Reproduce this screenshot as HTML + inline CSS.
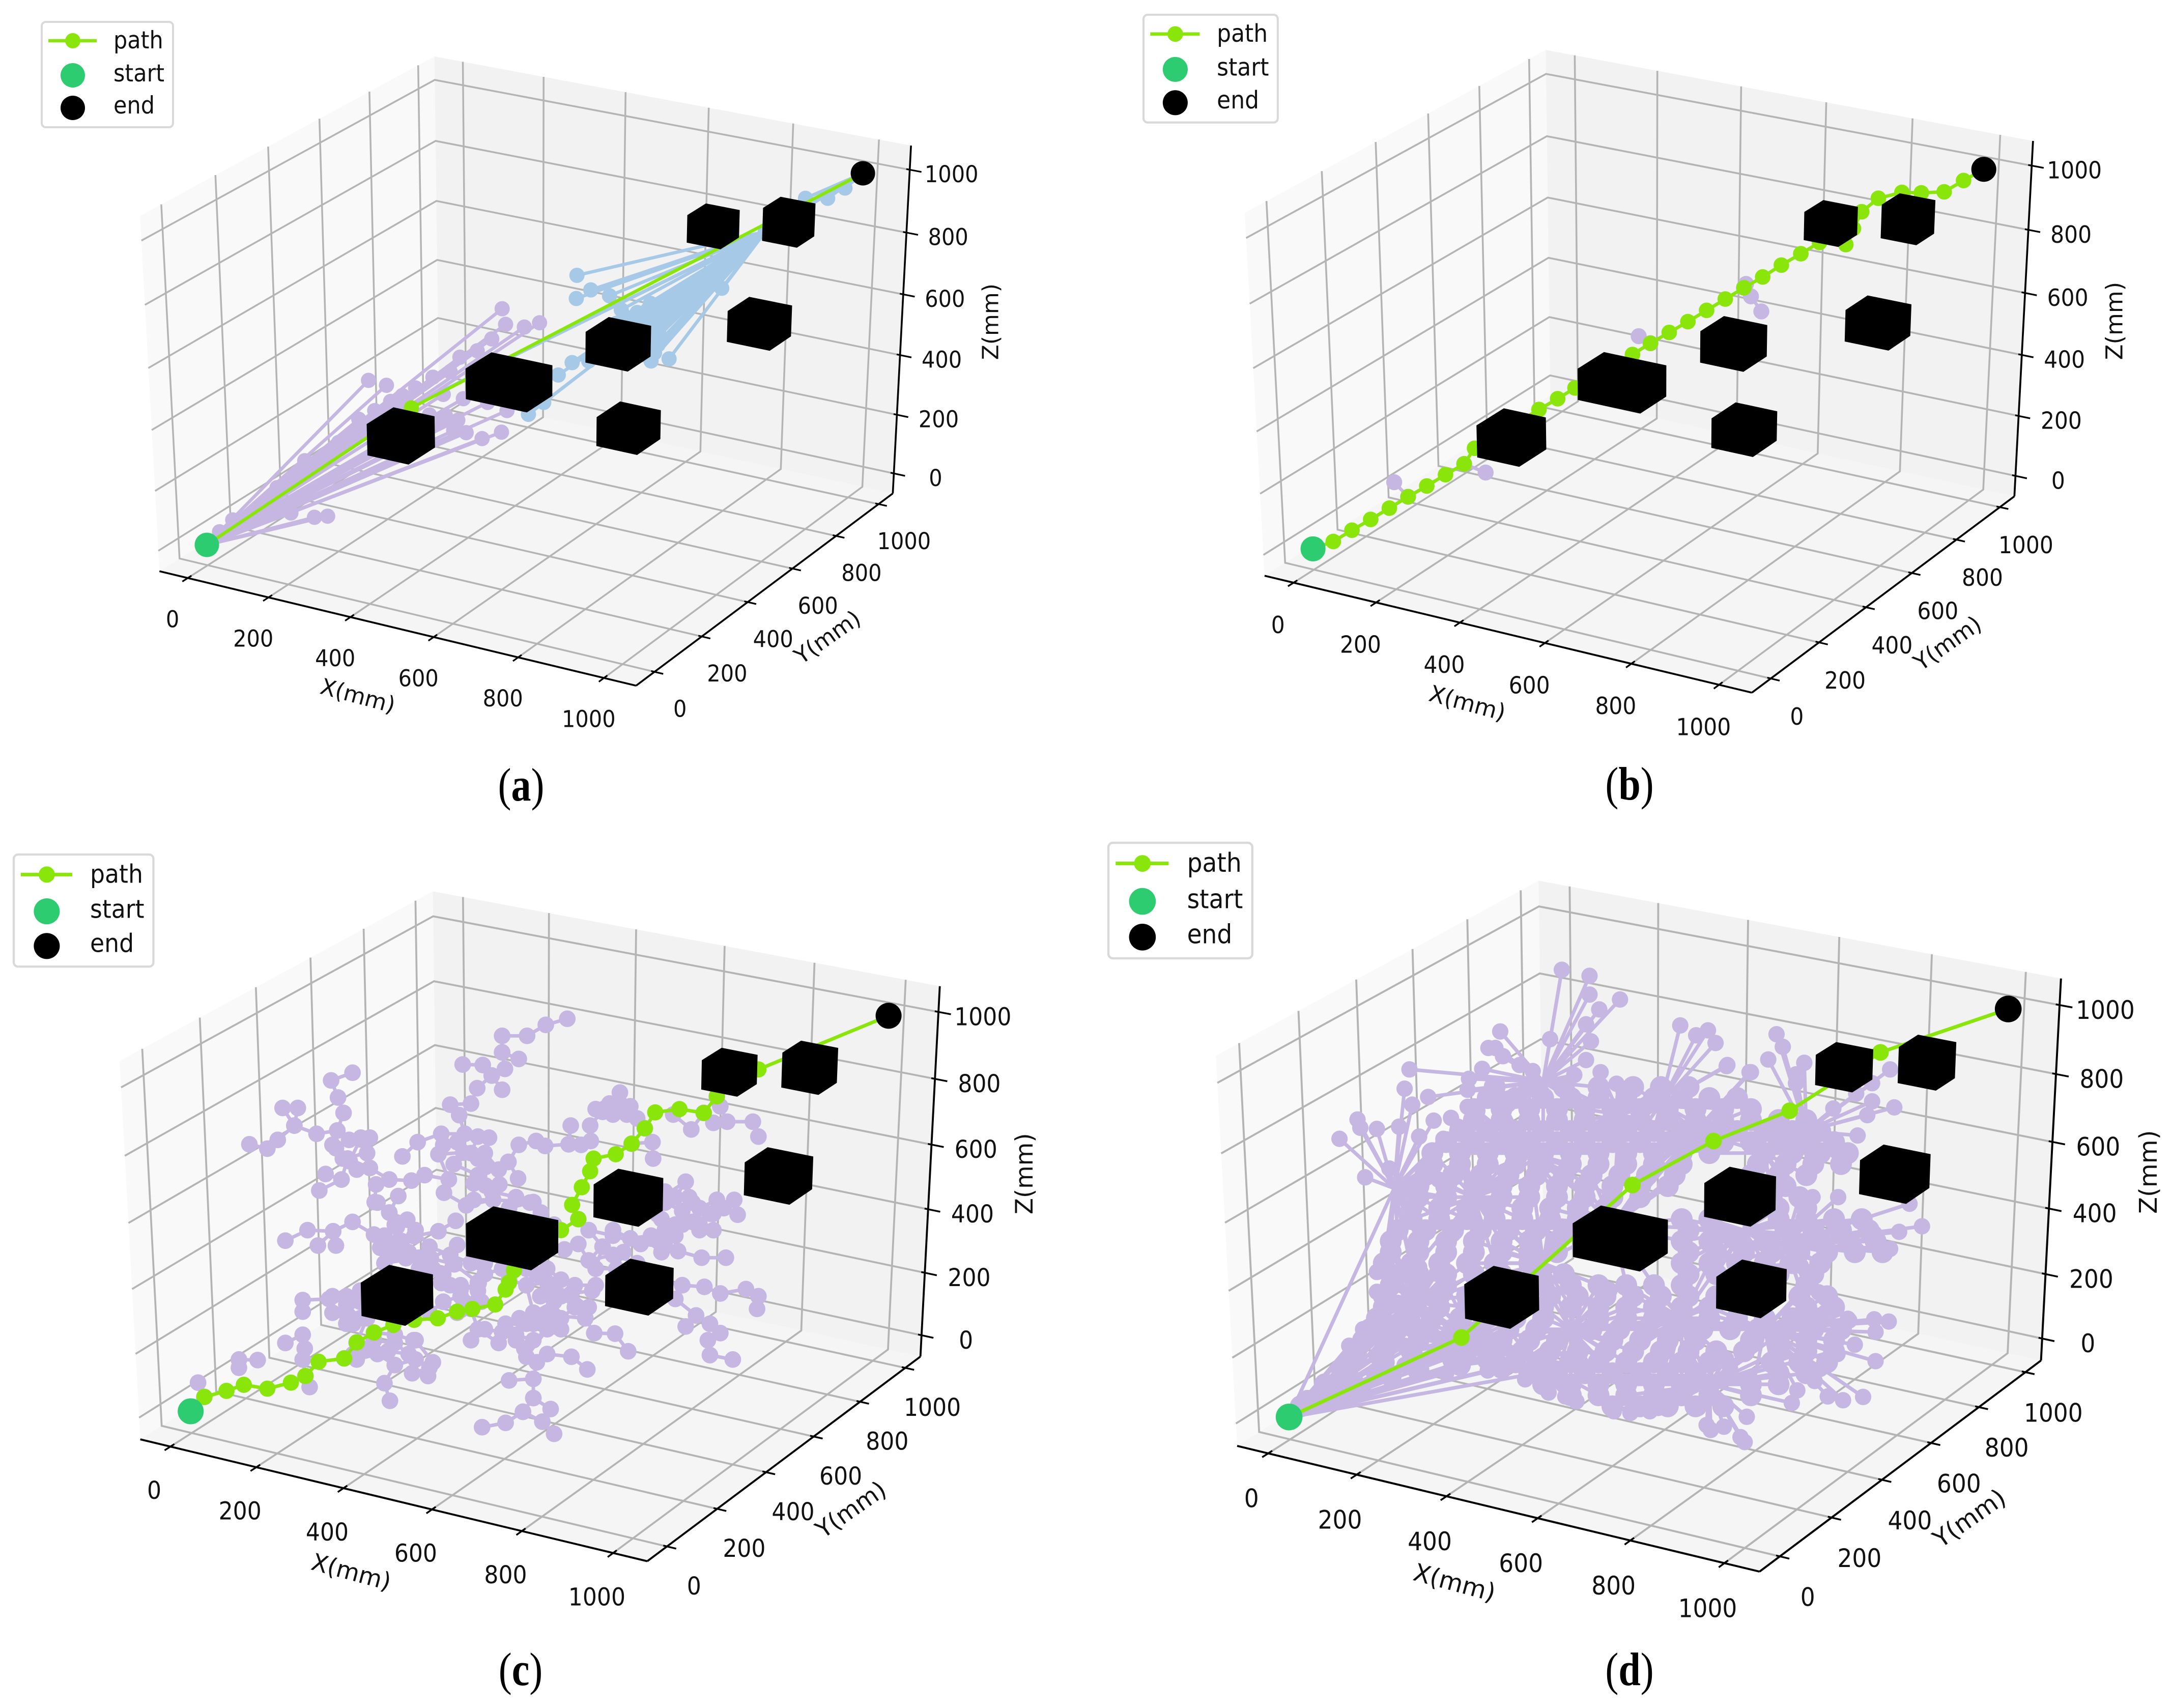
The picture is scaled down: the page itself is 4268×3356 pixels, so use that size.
<!DOCTYPE html>
<html lang="en">
<head>
<meta charset="utf-8">
<title>RRT path planning in 3D obstacle space</title>
<style>
html,body{margin:0;padding:0;background:#fff}
svg{display:block}
text{fill:#111;font-family:"DejaVu Sans","Liberation Sans",sans-serif}
.cap{font-family:"Liberation Serif",serif}
</style>
</head>
<body>
<svg id="figure" xmlns="http://www.w3.org/2000/svg" width="4268" height="3356" viewBox="0 0 4268 3356">
<rect x="0" y="0" width="4268" height="3356" fill="#ffffff"/>
</svg>
<script>
/* ---- axis data (mm) ---- */
const xLimits = [-71, 1074];
const yLimits = [-77, 1068];
const zLimits = [-69, 1076];
const xTicks = [0, 200, 400, 600, 800, 1000];
const yTicks = [0, 200, 400, 600, 800, 1000];
const zTicks = [0, 200, 400, 600, 800, 1000];
const xAxisTitle = "X(mm)";
const yAxisTitle = "Y(mm)";
const zAxisTitle = "Z(mm)";
const legendLabels = ["path", "start", "end"];

/* ---- scene data (mm) ---- */
const startPoint = [0, 0, 0];
const endPoint = [1000, 1000, 1000];
const cubeCenterX = [319, 476, 646, 886, 734, 867, 724];
const cubeCenterY = [267, 445, 605, 777, 848, 932, 513];
const cubeCenterZ = [319, 450, 543, 593, 831, 841, 338];
const cubeSizeX = [100, 147, 101, 101, 80, 82, 97];
const cubeSizeY = [107, 106, 98, 95, 81, 78, 100];
const cubeSizeZ = [103, 100, 100, 100, 88, 105, 95];

/* ---- tree and path nodes, in view-plane units of each plot (0..1568) ---- */
const pathA = [[594,757]];
const pathB = [[357,1005],[384,984],[411,964],[438,943],[465,922],[492,902],[519,881],[546,861],[561,832],[588,812],[615,791],[654,760],[681,740],[706,720],[734,700],[762,680],[789,658],[815,637],[842,617],[869,597],[896,576],[923,555],[950,534],[977,514],[1004,492],[1032,471],[1059,450],[1097,454],[1108,424],[1120,393],[1144,368],[1178,357],[1206,358],[1239,356],[1267,335]];
const pathC = [[295,1003],[327,992],[352,981],[386,988],[420,977],[441,965],[460,939],[497,933],[515,904],[540,886],[568,872],[598,863],[632,860],[660,848],[682,843],[715,835],[730,808],[735,795],[742,773],[775,735],[810,700],[835,680],[826,654],[840,622],[852,593],[857,570],[889,562],[912,543],[931,515],[946,486],[981,480],[1016,487],[1035,457],[1060,430],[1095,408]];
const pathD = [[542,895],[789,618],[906,538],[1016,483],[1147,377]];

const treeALavender = [[532,706],[558,715],[518,778],[541,762],[564,745],[581,734],[664,663],[689,651],[710,629],[725,573],[730,602],[757,607],[779,599],[669,740],[640,732],[632,782],[643,771],[661,780],[655,799],[673,803],[696,814],[724,802],[732,762],[704,747],[420,952],[454,960],[473,958],[440,855],[317,987],[336,965],[375,960],[400,905],[600,720],[625,700],[650,690],[580,760],[610,790],[620,770]];
const treeABlue = [[833,511],[853,538],[832,554],[880,549],[897,575],[939,563],[1042,535],[966,666],[944,644],[951,617],[826,673],[806,696],[785,747],[763,769],[489,821],[514,804],[900,640],[920,620],[930,600],[945,590],[960,585],[985,570],[1010,545],[1030,510],[890,640],[905,650],[915,660],[925,640],[935,630],[950,640],[905,620],[915,610],[925,590],[940,600],[955,595],[965,575],[975,570],[990,560],[1005,540],[1020,530],[890,600],[900,610],[910,590],[920,580],[935,575],[880,620],[870,650],[860,660],[850,670],[930,650],[945,655],[940,670]];
const treeABlueHub = [1105,430];
const treeABlueNearEnd = [[1163,368],[1195,368],[1220,349],[1105,430]];

const treeBBranches = [
[[445,895],[465,922]],
[[577,877],[546,861]],
[[798,624],[815,637]],
[[950,534],[953,527],[960,550],[975,578]]
];

const treeCBranches = [
[[360,544],[386,552],[401,536],[425,510],[457,525],[487,519],[496,487],[488,459],[478,428],[509,414]],
[[408,478],[425,510],[430,478]],
[[487,519],[504,536],[521,532],[534,532]],
[[487,519],[485,551],[502,570],[534,587],[562,608],[543,617],[541,649],[562,668],[575,638]],
[[502,570],[493,608],[470,598]],
[[493,608],[461,628]],
[[480,545],[505,575],[520,535]],
[[515,590],[495,570],[530,560]],
[[562,668],[588,681],[573,694],[566,727]],
[[412,719],[444,700],[481,702],[509,685],[540,708],[566,727],[598,711],[633,702],[658,683]],
[[459,728],[481,702],[485,728]],
[[566,727],[555,760],[605,750],[622,751],[660,727]],
[[553,713],[549,732],[571,743],[586,751]],
[[545,650],[570,690],[555,710],[580,720],[560,745],[590,740],[605,770],[585,795]],
[[580,720],[600,700],[620,730],[650,745],[680,760],[700,780],[725,770]],
[[650,745],[640,780],[665,800],[690,810],[665,845]],
[[620,730],[625,770]],
[[819,316],[788,327],[761,347],[725,347],[725,377],[729,407],[710,419],[697,400],[668,399]],
[[725,377],[749,389]],
[[710,419],[725,445]],
[[710,419],[689,442],[680,470],[650,472],[663,491],[671,525],[706,532]],
[[671,525],[637,525],[603,540],[581,566]],
[[671,525],[669,559],[633,562],[648,608],[641,632],[673,655],[712,645]],
[[669,559],[701,585],[734,576],[749,545],[774,538],[787,547]],
[[640,545],[660,540],[690,530],[680,560],[655,580],[690,600]],
[[700,560],[720,590],[690,570]],
[[690,610],[710,630],[745,640],[735,660],[765,650]],
[[734,576],[748,606]],
[[701,585],[701,619],[721,617]],
[[648,608],[613,600],[594,610],[562,608]],
[[684,615],[684,645],[712,645]],
[[787,547],[821,544],[839,545],[853,538],[852,510],[873,479],[880,470],[895,450]],
[[821,544],[824,510]],
[[873,479],[905,490],[920,497],[931,515]],
[[880,470],[870,485]],
[[860,480],[885,490],[895,470],[910,475]],
[[912,543],[942,540],[943,570]],
[[1035,457],[1040,475],[1050,503],[1087,503],[1095,530]],
[[1016,487],[998,517],[972,490]],
[[1016,487],[1030,505]],
[[770,649],[781,668],[800,690]],
[[712,645],[770,649]],
[[956,640],[990,612],[975,640]],
[[1065,672],[1035,645],[1010,660],[995,640],[960,630]],
[[1010,660],[1000,685],[960,700],[930,665]],
[[1035,645],[1010,700],[985,690]],
[[1030,670],[1000,685]],
[[960,650],[985,665],[1000,650],[1025,670],[1045,660],[1060,645]],
[[985,665],[975,690],[1010,690],[1030,700]],
[[955,680],[975,710],[950,720]],
[[960,700],[960,730],[979,738],[1013,750],[1048,750]],
[[960,730],[925,725],[885,710],[850,700],[835,680]],
[[850,700],[870,730],[885,700],[910,715],[940,710],[955,740]],
[[870,730],[860,770],[890,770],[900,740]],
[[885,710],[850,755],[885,745],[920,760],[925,785]],
[[850,755],[835,725],[815,735]],
[[925,785],[985,800],[1017,803],[1040,815],[1077,807],[1095,820],[1093,843]],
[[985,800],[975,825],[1005,855],[990,875]],
[[1005,855],[1025,870],[1040,887],[1022,900],[1025,927],[1058,935]],
[[907,920],[888,888],[858,887],[845,860],[850,840],[825,815],[855,810]],
[[848,953],[825,930],[790,925],[775,940],[770,970],[735,973]],
[[770,970],[770,1005],[755,1030],[730,1050],[696,1058]],
[[755,1030],[783,1048],[800,1070]],
[[770,1005],[795,1025]],
[[775,940],[757,915],[745,900],[725,885],[700,880],[680,900]],
[[745,900],[760,870],[770,850],[800,830],[825,815]],
[[770,850],[760,800],[790,795],[810,820]],
[[760,800],[735,790],[760,770],[775,780]],
[[730,870],[750,860],[770,870],[790,850],[810,860],[830,840],[800,810],[780,820]],
[[750,860],[745,890],[770,900],[790,880],[760,930]],
[[690,880],[720,905]],
[[760,770],[790,770],[810,790],[830,800],[860,800]],
[[691,826],[691,796],[665,808],[637,796],[622,751],[656,762],[691,796]],
[[690,795],[695,830],[665,820],[640,830],[620,850]],
[[700,760],[690,795]],
[[800,855],[845,860]],
[[780,855],[810,880]],
[[670,830],[650,800]],
[[286,977],[295,1003]],
[[345,950],[345,935],[372,936]],
[[412,905],[437,890],[440,915],[437,935],[441,965],[447,985]],
[[497,933],[515,935],[545,925],[570,945],[600,935],[620,950],[595,960],[618,965]],
[[570,945],[555,978],[563,1010]],
[[597,900],[570,890],[540,886]],
[[515,904],[530,915],[510,925]],
[[437,848],[437,827],[475,825],[500,820],[520,810]],
[[480,850],[510,870],[530,860],[515,904]],
[[520,830],[500,850]],
[[480,820],[500,835],[520,860],[500,870]],
[[540,900],[570,905],[590,925],[560,920]],
[[600,900],[625,940]],
[[680,843],[690,880],[700,880]],
[[660,850],[640,830]]
];

const treeDHubs = [[293,1040],[445,624],[560,640],[640,560],[770,490],[880,520],[980,560],[560,900],[700,880],[860,860],[950,700],[660,760],[480,830],[760,690],[660,430],[830,470],[1040,520],[1010,725],[980,880],[900,980],[640,930]];
const treeDHubLinks = [[0,12],[0,7],[0,1],[0,2],[0,8],[12,1],[12,2],[7,11],[11,2],[11,3],[11,13],[13,4],[13,5],[13,10],[7,8],[8,9],[9,10],[3,4],[4,5],[5,6],[2,3],[12,11],[10,6],[8,11],[3,14],[4,15],[6,16],[10,17],[9,18],[9,19],[8,20],[7,20]];
const treeDStartFan = [[420,860],[440,870],[470,880],[500,890],[530,900],[560,915],[590,930],[620,945],[650,960],[430,890],[460,910],[500,930],[540,940],[580,955],[400,880],[380,910],[420,930],[460,945],[520,960]];
const treeDLeaves = [[687,227],[727,238],[727,272],[771,281],[741,299],[722,326],[729,357],[670,353],[598,339],[581,369],[591,369],[602,384],[626,400],[572,407],[553,425],[551,445],[551,476],[565,483],[467,408],[460,443],[494,458],[471,472],[392,499],[396,514],[420,516],[366,534],[403,604],[452,512],[481,530],[502,501],[527,496],[537,512],[516,534],[509,608],[457,629],[438,588],[420,776],[438,774],[455,781],[481,767],[420,812],[450,832],[506,779],[530,707],[858,328],[898,337],[881,346],[909,360],[926,400],[958,413],[743,413],[766,434],[645,411],[722,391],[705,418],[997,344],[1006,367],[985,390],[925,402],[960,413],[1037,396],[1025,417],[1025,433],[1161,408],[1135,433],[1112,452],[1135,466],[1167,477],[1079,479],[1128,491],[1114,528],[1049,640],[1086,640],[1035,685],[1189,652],[1207,693],[1174,703],[1138,706],[1100,718],[1161,734],[1021,743],[1032,765],[1058,813],[1067,850],[1102,864],[1138,862],[1159,866],[1140,885],[702,835],[756,809],[1059,814],[1070,849],[1100,861],[1110,908],[1085,925],[1140,938],[1060,952],[1052,974],[1122,1003],[1093,1009],[1071,1002],[1027,991],[1019,1014],[945,1076],[951,1085],[921,1057],[896,1054],[954,1039],[814,1029],[786,1032],[762,1029],[708,1011],[692,1002],[668,995],[634,971],[930,952],[924,934],[902,1063],[826,1023],[884,1023],[427,814],[449,835]];
const treeDInner = [[590,440],[640,440],[690,440],[740,440],[790,440],[830,440],[870,440],[560,480],[600,480],[640,480],[680,480],[720,480],[760,480],[800,480],[840,480],[880,480],[920,480],[960,480],[540,520],[580,520],[620,520],[660,520],[700,520],[740,520],[780,520],[820,520],[860,520],[900,520],[940,520],[980,520],[1020,520],[1060,520],[500,560],[540,560],[580,560],[620,560],[660,560],[700,560],[740,560],[780,560],[820,560],[860,560],[900,560],[980,560],[1020,560],[1060,560],[1100,560],[490,600],[530,600],[570,600],[610,600],[650,600],[690,600],[730,600],[770,600],[810,600],[850,600],[960,600],[1000,600],[1040,600],[480,640],[520,640],[560,640],[600,640],[640,640],[680,640],[720,640],[760,640],[800,640],[990,640],[1030,640],[470,680],[510,680],[550,680],[590,680],[630,680],[670,680],[710,680],[860,680],[900,680],[1000,680],[1040,680],[1080,680],[1120,680],[440,720],[480,720],[520,720],[560,720],[600,720],[640,720],[680,720],[860,720],[900,720],[940,720],[980,720],[1020,720],[1060,720],[1100,720],[1140,720],[430,760],[470,760],[510,760],[550,760],[590,760],[640,760],[860,760],[900,760],[940,760],[980,760],[1020,760],[1060,760],[440,800],[480,800],[520,800],[660,800],[700,800],[740,800],[780,800],[820,800],[860,800],[1040,800],[430,840],[470,840],[510,840],[550,840],[660,840],[700,840],[740,840],[780,840],[820,840],[860,840],[900,840],[1040,840],[1080,840],[410,880],[450,880],[490,880],[530,880],[570,880],[610,880],[650,880],[730,880],[770,880],[810,880],[850,880],[890,880],[930,880],[970,880],[1010,880],[1050,880],[1090,880],[390,920],[430,920],[470,920],[510,920],[550,920],[590,920],[630,920],[670,920],[710,920],[750,920],[790,920],[830,920],[870,920],[910,920],[950,920],[1000,920],[1040,920],[1080,920],[370,960],[420,960],[480,955],[540,945],[600,950],[640,960],[680,960],[720,960],[760,960],[800,960],[840,960],[880,960],[1000,960],[1040,960],[320,1010],[360,990],[700,1000],[740,1000],[780,1000],[820,1000],[860,1000],[900,1000],[960,1000]];
const treeDInnerB = [[580,460],[620,460],[660,460],[700,460],[740,460],[780,460],[820,460],[860,460],[900,460],[940,460],[560,500],[600,500],[640,500],[680,500],[720,500],[760,500],[800,500],[840,500],[880,500],[920,500],[960,500],[1000,500],[1040,500],[520,540],[560,540],[600,540],[640,540],[680,540],[720,540],[760,540],[800,540],[840,540],[880,540],[920,540],[960,540],[1000,540],[1040,540],[1080,540],[500,580],[540,580],[580,580],[620,580],[660,580],[700,580],[740,580],[780,580],[820,580],[860,580],[970,580],[1010,580],[1050,580],[1090,580],[480,620],[520,620],[560,620],[600,620],[640,620],[680,620],[720,620],[760,620],[800,620],[840,620],[970,620],[1010,620],[470,660],[510,660],[550,660],[590,660],[630,660],[670,660],[710,660],[750,660],[1000,660],[1040,660],[450,700],[490,700],[530,700],[570,700],[610,700],[650,700],[690,700],[870,700],[910,700],[1010,700],[1050,700],[1090,700],[1130,700],[440,740],[480,740],[520,740],[560,740],[600,740],[640,740],[680,740],[870,740],[910,740],[950,740],[990,740],[1030,740],[1070,740],[1110,740],[1150,740],[440,780],[480,780],[520,780],[560,780],[600,780],[650,780],[690,780],[870,780],[910,780],[950,780],[1000,780],[1050,780],[430,820],[470,820],[510,820],[550,820],[670,820],[710,820],[750,820],[790,820],[830,820],[870,820],[910,820],[1030,820],[1070,820],[420,860],[460,860],[500,860],[540,860],[580,860],[620,860],[660,860],[740,860],[780,860],[820,860],[860,860],[900,860],[940,860],[980,860],[1020,860],[1060,860],[400,900],[440,900],[480,900],[520,900],[560,900],[600,900],[640,900],[680,900],[760,900],[800,900],[840,900],[880,900],[960,900],[1000,900],[1040,900],[1080,900],[380,940],[430,940],[480,940],[530,935],[580,935],[620,940],[660,940],[700,940],[740,940],[780,940],[820,940],[860,940],[900,940],[990,940],[1030,940],[1070,940],[345,980],[385,975],[440,965],[660,980],[700,980],[740,980],[780,980],[820,980],[860,980],[900,980],[960,980],[1000,980],[310,1020],[760,1020],[800,1020],[840,1020],[880,1020],[920,1020]];

/* ---- panel axis scaling ---- */
const panelA = {id:"a", ox:1045, oy:708, sx:10810, sy:7972, vx:0, vy:0, kx:1.361, ky:1.0587, legendX:82, legendY:43, capX:1024, capY:1573};
const panelB = {id:"b", ox:3233, oy:708, sx:11053, sy:8143, vx:2134, vy:0, kx:1.361, ky:1.0587, legendX:2247, legendY:29, capX:3202, capY:1571};
const panelC = {id:"c", ox:1054, oy:2387, sx:11500, sy:8487, vx:0, vy:1660, kx:1.361, ky:1.0816, legendX:27, legendY:1679, capX:1023, capY:3311};
const panelD = {id:"d", ox:3233, oy:2386, sx:11850, sy:8754, vx:2134, vy:1660, kx:1.361, ky:1.0816, legendX:2178, legendY:1656, capX:3202, capY:3311};

const COLOR_PATH = "#8ae60a", COLOR_START = "#2ecc71", COLOR_TREE = "#c5b7e2", COLOR_BLUE = "#a6c9e8";
const GRID = "#b4b4b4";
const NS = "http://www.w3.org/2000/svg";
const root = document.getElementById("figure");

function mk(tag, attrs, parent) {
  const el = document.createElementNS(NS, tag);
  for (const k in attrs) el.setAttribute(k, attrs[k]);
  parent.appendChild(el);
  return el;
}
function project(p, x, y, z) {
  const dx = (x - xLimits[0]) / (xLimits[1] - xLimits[0]) - 0.5;
  const dy = (y - yLimits[0]) / (yLimits[1] - yLimits[0]) - 0.5;
  const dz = (z - zLimits[0]) / (zLimits[1] - zLimits[0]) - 0.5;
  const a = 0.866025 * dx + 0.5 * dy;
  const b = -0.25 * dx + 0.433013 * dy + 0.866025 * dz;
  const c = 0.433013 * dx - 0.75 * dy + 0.5 * dz;
  const w = 10 - c;
  return [p.ox + p.sx * a / w, p.oy - p.sy * b / w];
}
function viewX(p, u) { return p.vx + u * p.kx; }
function viewY(p, v) { return p.vy + v * p.ky; }
function viewPt(p, n) { return [viewX(p, n[0]), viewY(p, n[1])]; }
function pts(list) { return list.map(q => q[0].toFixed(1) + "," + q[1].toFixed(1)).join(" "); }

function drawPanes(p, g) {
  const xa = xLimits[0], xb = xLimits[1], ya = yLimits[0], yb = yLimits[1], za = zLimits[0], zb = zLimits[1];
  const w = [[xa,ya,za],[xa,yb,za],[xa,yb,zb],[xa,ya,zb]].map(q => project(p, q[0], q[1], q[2]));
  const e1 = mk("polygon", {points: pts(w), fill: "#f9f9f9"}, g);
  
  
  const bk = [[xa,yb,za],[xb,yb,za],[xb,yb,zb],[xa,yb,zb]].map(q => project(p, q[0], q[1], q[2]));
  const e2 = mk("polygon", {points: pts(bk), fill: "#f2f2f2"}, g);
  
  
  const fl = [[xa,ya,za],[xb,ya,za],[xb,yb,za],[xa,yb,za]].map(q => project(p, q[0], q[1], q[2]));
  const e3 = mk("polygon", {points: pts(fl), fill: "#f5f5f5"}, g);
  
  
}
function drawGrid(p, g, f) {
  const xa = xLimits[0], xb = xLimits[1], ya = yLimits[0], yb = yLimits[1], za = zLimits[0], zb = zLimits[1], sw = 3.5 * f;
  xTicks.forEach(t => {
    const l = mk("polyline", {points: pts([project(p,t,ya,za),project(p,t,yb,za),project(p,t,yb,zb)]), fill:"none", stroke:GRID, "stroke-width":sw}, g);
    
    
  });
  yTicks.forEach(t => {
    const l = mk("polyline", {points: pts([project(p,xb,t,za),project(p,xa,t,za),project(p,xa,t,zb)]), fill:"none", stroke:GRID, "stroke-width":sw}, g);
    
    
  });
  zTicks.forEach(t => {
    const l = mk("polyline", {points: pts([project(p,xa,ya,t),project(p,xa,yb,t),project(p,xb,yb,t)]), fill:"none", stroke:GRID, "stroke-width":sw}, g);
    
    
  });
}
function tickLabel(g, cx, cy, txt, fs) {
  const t = mk("text", {transform:"translate(" + cx.toFixed(1) + "," + cy.toFixed(1) + ") scale(1,1.1)", y:(0.365*fs).toFixed(1), "text-anchor":"middle", "font-size":fs.toFixed(1)}, g);
  t.textContent = txt;
  return t;
}
function axisSeg(g, q1, q2, w) {
  return mk("line", {x1:q1[0], y1:q1[1], x2:q2[0], y2:q2[1], stroke:"#000", "stroke-width":w, "stroke-linecap":"butt"}, g);
}
function drawAxes(p, g, f) {
  const xa = xLimits[0], xb = xLimits[1], ya = yLimits[0], yb = yLimits[1], za = zLimits[0], zb = zLimits[1];
  const fs = 41.5 * f, ts = 44 * f, w = 3.6 * f;
  const ax = axisSeg(g, project(p,xa,ya,za), project(p,xb,ya,za), w);
  
  
  const ay = axisSeg(g, project(p,xb,ya,za), project(p,xb,yb,za), w);
  
  
  const az = axisSeg(g, project(p,xb,yb,za), project(p,xb,yb,zb), w);
  
  
  xTicks.forEach(t => {
    const m = axisSeg(g, project(p,t,ya-21,za), project(p,t,ya+14,za), w * 0.9);
    
    
    const q = project(p,t,ya,za);
    const l = tickLabel(g, q[0] - 30*f, q[1] + 80*f, String(t), fs);
    
    
  });
  yTicks.forEach(t => {
    const m = axisSeg(g, project(p,xb-8,t,za), project(p,xb+20,t,za), w * 0.9);
    
    
    const q = project(p,xb,t,za);
    const l = tickLabel(g, q[0] + 50*f, q[1] + 72*f, String(t), fs);
    
    
  });
  zTicks.forEach(t => {
    const m = axisSeg(g, project(p,xb-8,yb,t), project(p,xb+27,yb,t), w * 0.9);
    
    
    const q = project(p,xb,yb,t);
    const l = tickLabel(g, q[0] + 82*f, q[1] + 8*f, String(t), fs);
    
    
  });
  const mx = project(p,(xa+xb)/2,ya,za), my = project(p,xb,(ya+yb)/2,za), mz = project(p,xb,yb,(za+zb)/2);
  const tx = mk("text", {transform:"translate(" + (mx[0]-68*f) + "," + (mx[1]+134*f) + ") rotate(15)", y:0.36*ts, "text-anchor":"middle", "font-size":ts}, g);
  tx.textContent = xAxisTitle;
  
  
  const ty = mk("text", {transform:"translate(" + (my[0]+114*f) + "," + (my[1]+100*f) + ") rotate(-35)", y:0.36*ts, "text-anchor":"middle", "font-size":ts}, g);
  ty.textContent = yAxisTitle;
  
  
  const tz = mk("text", {transform:"translate(" + (mz[0]+174*f) + "," + (mz[1]-4*f) + ") rotate(-90)", y:0.36*ts, "text-anchor":"middle", "font-size":ts}, g);
  tz.textContent = zAxisTitle;
  
  
}
function edge(g, q1, q2, color, w, name) {
  const l = mk("line", {x1:q1[0].toFixed(1), y1:q1[1].toFixed(1), x2:q2[0].toFixed(1), y2:q2[1].toFixed(1), stroke:color, "stroke-width":w}, g);
  
  
}
function node(g, q, color, r, name) {
  const c = mk("circle", {cx:q[0].toFixed(1), cy:q[1].toFixed(1), r:r, fill:color}, g);
  
  
}
function drawBranches(p, g, f, branches) {
  branches.forEach(br => {
    for (let i = 1; i < br.length; i++) edge(g, viewPt(p, br[i-1]), viewPt(p, br[i]), COLOR_TREE, 6.5*f, "tree-edge");
  });
  branches.forEach(br => br.forEach(n => node(g, viewPt(p, n), COLOR_TREE, 15.4*f, "tree-node")));
}
function drawFan(p, g, f, rootPt, nodes, color) {
  nodes.forEach(n => edge(g, rootPt, viewPt(p, n), color, 6.5*f, "tree-edge"));
  nodes.forEach(n => node(g, viewPt(p, n), color, 15*f, "tree-node"));
}
function hubsByDistance(n) {
  return treeDHubs.map((h, i) => [(h[0]-n[0])*(h[0]-n[0]) + (h[1]-n[1])*(h[1]-n[1]), i]).sort((s, t) => s[0] - t[0]);
}
function drawTreeD(p, g, f) {
  const w = 6.5 * f;
  treeDHubLinks.forEach(L => edge(g, viewPt(p, treeDHubs[L[0]]), viewPt(p, treeDHubs[L[1]]), COLOR_TREE, w, "tree-edge"));
  treeDStartFan.forEach(n => edge(g, viewPt(p, treeDHubs[0]), viewPt(p, n), COLOR_TREE, w, "tree-edge"));
  treeDInner.forEach(n => {
    const o = hubsByDistance(n);
    edge(g, viewPt(p, n), viewPt(p, treeDHubs[o[0][1]]), COLOR_TREE, w, "tree-edge");
    edge(g, viewPt(p, n), viewPt(p, treeDHubs[o[1][1]]), COLOR_TREE, w, "tree-edge");
  });
  treeDInnerB.forEach(n => {
    const o = hubsByDistance(n);
    edge(g, viewPt(p, n), viewPt(p, treeDHubs[o[0][1]]), COLOR_TREE, w, "tree-edge");
  });
  treeDLeaves.forEach(n => {
    const o = hubsByDistance(n);
    edge(g, viewPt(p, n), viewPt(p, treeDHubs[o[0][1]]), COLOR_TREE, w, "tree-edge");
  });
  treeDStartFan.forEach(n => node(g, viewPt(p, n), COLOR_TREE, 14.7*f, "tree-node"));
  treeDInner.forEach(n => node(g, viewPt(p, n), COLOR_TREE, 21.5, "tree-node"));
  treeDInnerB.forEach(n => node(g, viewPt(p, n), COLOR_TREE, 21.5, "tree-node"));
  treeDLeaves.forEach(n => node(g, viewPt(p, n), COLOR_TREE, 14.7*f, "tree-node"));
}
function drawPath(p, g, f, nodes) {
  const s = project(p, startPoint[0], startPoint[1], startPoint[2]);
  const e = project(p, endPoint[0], endPoint[1], endPoint[2]);
  const all = [s].concat(nodes.map(n => viewPt(p, n)), [e]);
  const l = mk("polyline", {points: pts(all), fill:"none", stroke:COLOR_PATH, "stroke-width":6.5*f}, g);
  
  
  nodes.forEach(n => node(g, viewPt(p, n), COLOR_PATH, 15*f, "path-node"));
}
function drawCubes(p, g) {
  cubeCenterX.forEach((cx, i) => {
    const x0 = cx - cubeSizeX[i]/2, x1 = cx + cubeSizeX[i]/2;
    const y0 = cubeCenterY[i] - cubeSizeY[i]/2, y1 = cubeCenterY[i] + cubeSizeY[i]/2;
    const z0 = cubeCenterZ[i] - cubeSizeZ[i]/2, z1 = cubeCenterZ[i] + cubeSizeZ[i]/2;
    const hex = [[x0,y0,z0],[x1,y0,z0],[x1,y1,z0],[x1,y1,z1],[x0,y1,z1],[x0,y0,z1]].map(q => project(p, q[0], q[1], q[2]));
    const c = mk("polygon", {points: pts(hex), fill:"#000"}, g);
    
    
  });
}
function drawEnds(p, g, f) {
  const s = project(p, startPoint[0], startPoint[1], startPoint[2]);
  const e = project(p, endPoint[0], endPoint[1], endPoint[2]);
  node(g, s, COLOR_START, 24*f, "start-marker");
  node(g, e, "#000", 24*f, "end-marker");
}
function drawLegend(p, g, f) {
  const L = mk("g", {transform:"translate(" + p.legendX + "," + p.legendY + ") scale(" + f + ")"}, g);
  
  
  const box = mk("rect", {x:0, y:0, width:258, height:207, rx:8, fill:"#fff", stroke:"#d9d9d9", "stroke-width":4}, L);
  
  
  const line = mk("line", {x1:13, y1:37, x2:108, y2:37, stroke:COLOR_PATH, "stroke-width":6.5}, L);
  
  
  node(L, [61, 37], COLOR_PATH, 15, "legend-path-marker");
  node(L, [61, 105], COLOR_START, 24, "legend-start-marker");
  node(L, [61, 169], "#000", 24, "legend-end-marker");
  const base = [52, 117, 180];
  legendLabels.forEach((txt, i) => {
    const t = mk("text", {transform:"translate(141," + base[i] + ") scale(1,1.1)", "font-size":43}, L);
    t.textContent = txt;
    
    
  });
}
function drawCaption(p, g) {
  const t = mk("text", {transform:"translate(" + p.capX + "," + p.capY + ") scale(1,1.18)", "text-anchor":"middle", "font-size":78, class:"cap", style:"fill:#000"}, g);
  
  
  t.appendChild(document.createTextNode("("));
  const b = mk("tspan", {"font-weight":"bold"}, t);
  b.textContent = p.id;
  t.appendChild(document.createTextNode(")"));
}
function drawPanel(p, drawTrees, pathNodes) {
  const f = p.sx / 10810;
  const g = mk("g", {}, root);
  
  
  drawPanes(p, g);
  drawGrid(p, g, f);
  drawAxes(p, g, f);
  drawTrees(g, f);
  drawPath(p, g, f, pathNodes);
  drawCubes(p, g);
  drawEnds(p, g, f);
  drawLegend(p, g, f);
  drawCaption(p, g);
}

drawPanel(panelA, (g, f) => {
  const s = project(panelA, startPoint[0], startPoint[1], startPoint[2]);
  const e = project(panelA, endPoint[0], endPoint[1], endPoint[2]);
  drawFan(panelA, g, f, viewPt(panelA, treeABlueHub), treeABlue, COLOR_BLUE);
  drawFan(panelA, g, f, e, treeABlueNearEnd, COLOR_BLUE);
  drawFan(panelA, g, f, s, treeALavender, COLOR_TREE);
}, pathA);
drawPanel(panelB, (g, f) => drawBranches(panelB, g, f, treeBBranches), pathB);
drawPanel(panelC, (g, f) => drawBranches(panelC, g, f, treeCBranches), pathC);
drawPanel(panelD, (g, f) => drawTreeD(panelD, g, f), pathD);
</script>
</body>
</html>
